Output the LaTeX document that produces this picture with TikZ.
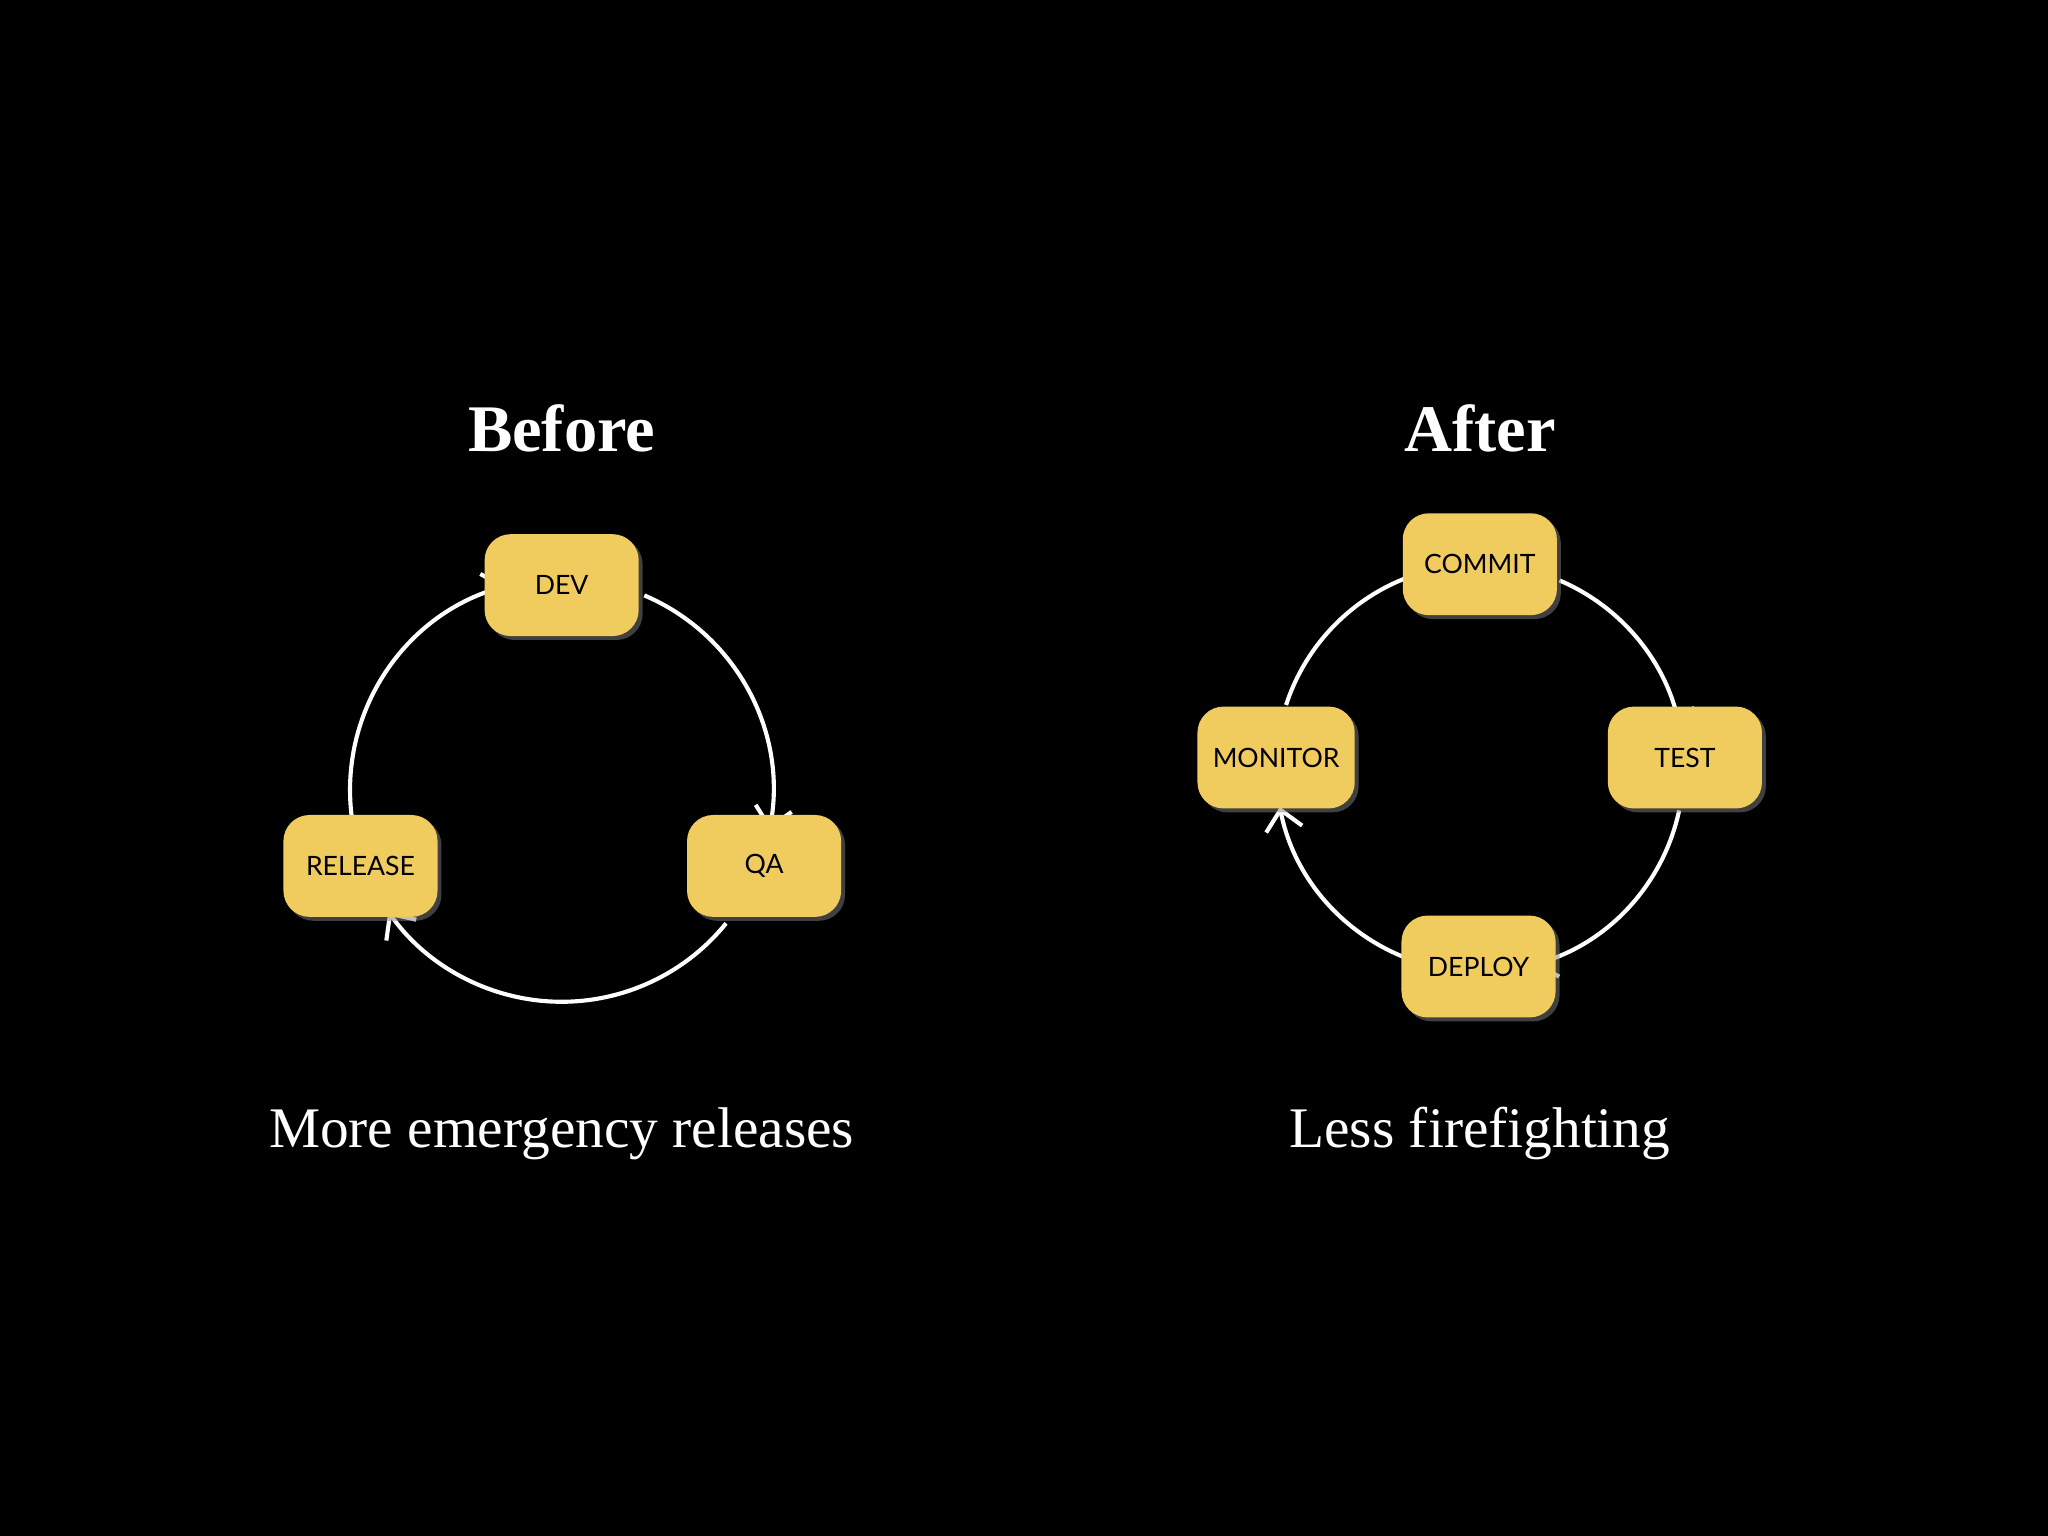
\documentclass[tikz,border=0pt]{standalone}
\usepackage{fontspec}
\setmainfont{Liberation Serif}
\newfontfamily\boxfont{Lato}
\usetikzlibrary{arrows.meta,shadows,calc}
\definecolor{gold}{HTML}{F0CB5E}
\tikzset{
  stepbox/.style={rectangle,rounded corners=0.2cm,fill=gold,minimum width=1.18cm,minimum height=0.78cm,
    font=\boxfont\fontsize{5.8}{7}\selectfont,text=black,drop shadow={opacity=0.5,shadow xshift=0.03cm,shadow yshift=-0.03cm}},
  arr/.style={draw=white,line width=0.9pt,-{Straight Barb[length=1.5mm,width=2.8mm]}},
  line/.style={draw=white,line width=0.9pt},
  title/.style={text=white,font=\fontsize{14.5}{17}\selectfont\bfseries},
  caption/.style={text=white,font=\fontsize{12.5}{15}\selectfont}
}
\begin{document}
\begin{tikzpicture}
\fill[black] (0,0) rectangle (15.68,11.76);
\useasboundingbox (0,0) rectangle (15.68,11.76);
% Before
\coordinate (bc) at (4.30,5.71);
\draw[arr] ($(bc)+(67:1.62)$) arc[start angle=67,end angle=-11,radius=1.62];
\draw[arr] ($(bc)+(-39:1.62)$) arc[start angle=-39,end angle=-145,radius=1.62];
\draw[arr] ($(bc)+(187:1.62)$) arc[start angle=187,end angle=105,radius=1.62];
\node[stepbox] (dev) at (4.30,7.28) {DEV};
\node[stepbox] (qa) at (5.85,5.13) {QA};
\node[stepbox] (rel) at (2.76,5.13) {RELEASE};
\node[title] (bt) at (4.30,8.48) {Before};
\node[caption] (bcap) at (4.30,3.08) {More emergency releases};
% After
\coordinate (ac) at (11.33,5.88);
\draw[arr] ($(ac)+(67:1.56)$) arc[start angle=67,end angle=10,radius=1.56];
\draw[arr] ($(ac)+(-12:1.56)$) arc[start angle=-12,end angle=-75,radius=1.56];
\draw[arr] ($(ac)+(-106:1.56)$) arc[start angle=-106,end angle=-169,radius=1.56];
\draw[line] ($(ac)+(162:1.56)$) arc[start angle=162,end angle=112,radius=1.56];
\node[stepbox] (commit) at (11.33,7.44) {COMMIT};
\node[stepbox] (test) at (12.90,5.96) {TEST};
\node[stepbox] (mon) at (9.77,5.96) {MONITOR};
\node[stepbox] (dep) at (11.32,4.36) {DEPLOY};
\node[title] (at) at (11.33,8.48) {After};
\node[caption] (acap) at (11.33,3.08) {Less firefighting};
\end{tikzpicture}
\end{document}
